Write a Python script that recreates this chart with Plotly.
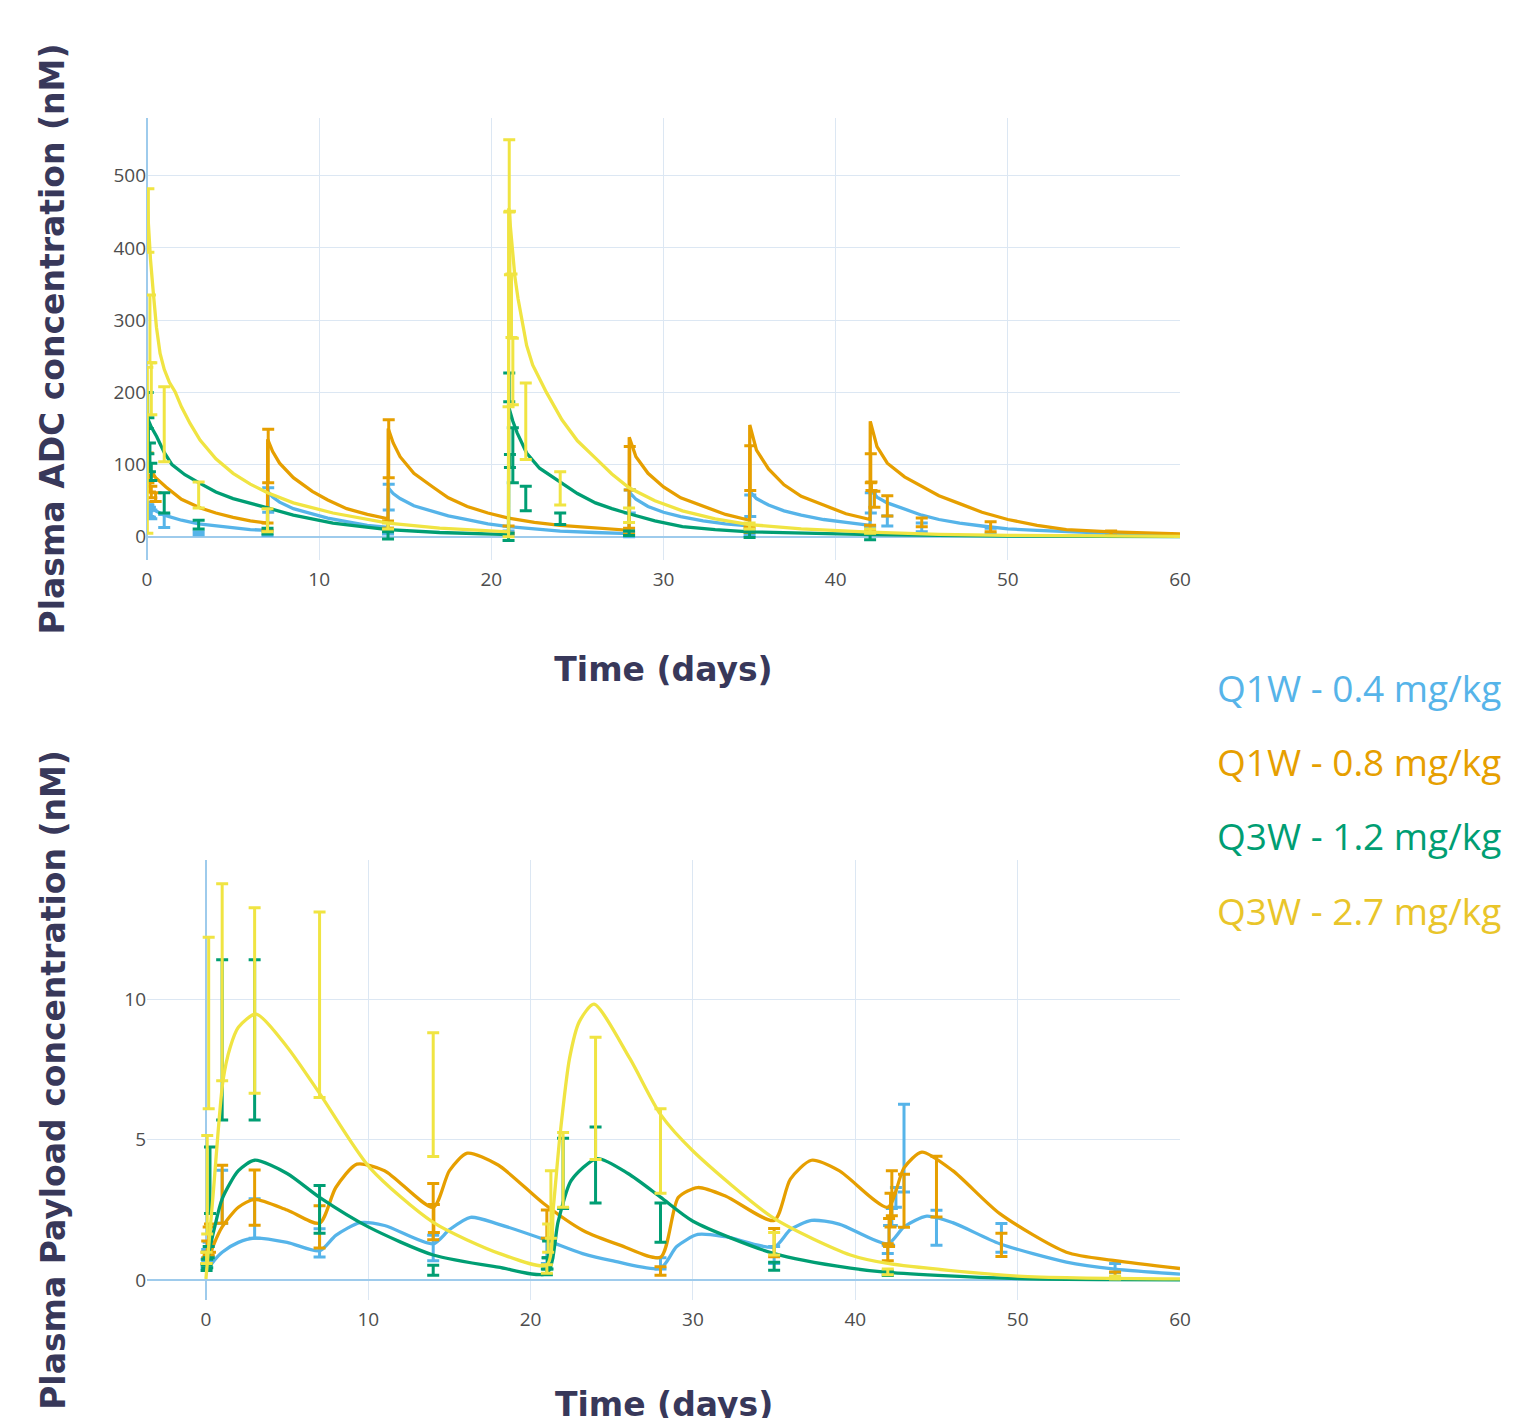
import plotly.graph_objects as go

# ---------------- colours / names ----------------
series_names = ["Q1W - 0.4 mg/kg", "Q1W - 0.8 mg/kg", "Q3W - 1.2 mg/kg", "Q3W - 2.7 mg/kg"]
series_colors = ["#56B4E9", "#E69F00", "#009E73", "#F0E442"]
legend_text_colors = ["#56B4E9", "#E69F00", "#009E73", "#E9C52A"]

# ---------------- ADC model curves (nM) ----------------
blue_adc_t = [0, 0.5, 1, 2, 3, 4, 5, 6, 7,
              7.01, 7.3, 7.7, 8.5, 9.6, 10.5, 11.6, 12.8, 14,
              14.01, 14.3, 14.7, 15.5, 16.6, 17.5, 18.6, 19.8, 21, 22.5, 24, 26, 28,
              28.01, 28.4, 29.1, 30, 31, 32.3, 33.6, 35,
              35.01, 35.4, 36.1, 37, 38, 39.3, 40.6, 42,
              42.01, 42.4, 43, 44, 45, 46, 47.2, 48.5, 50, 51.7, 53.4, 56, 60]
blue_adc_v = [45, 36, 30, 23, 18, 15, 12, 10, 9,
              63, 55, 48, 39, 32, 26, 21, 16, 13,
              68, 60, 53, 43, 35, 29, 24, 18, 14, 11, 8, 6, 4.5,
              62, 52, 42, 34, 28, 22, 18, 15,
              63, 53, 44, 36, 30, 24, 20, 16,
              66, 55, 47, 38, 30, 24, 19, 15, 11, 9, 7, 5, 3]

orange_adc_t = [0, 0.5, 1.1, 2, 3.1, 4, 5, 6, 7,
                7.01, 7.3, 7.7, 8.5, 9.6, 10.5, 11.6, 12.8, 14,
                14.01, 14.3, 14.7, 15.5, 16.6, 17.5, 18.6, 19.8, 21, 22.5, 24, 26, 28,
                28.01, 28.4, 29.1, 30, 31, 32.3, 33.6, 35,
                35.01, 35.4, 36.1, 37, 38, 39.3, 40.6, 42,
                42.01, 42.4, 43, 44, 45, 46, 47.2, 48.5, 50, 51.7, 53.4, 56, 60]
orange_adc_v = [100, 82, 69, 52, 40, 33, 27, 22, 19,
                135, 118, 102, 82, 63, 51, 39, 31, 25,
                150, 130, 111, 88, 69, 54, 42, 33, 26, 20, 16, 12, 9,
                138, 111, 88, 69, 54, 42, 31, 23,
                155, 120, 94, 72, 56, 44, 32, 24,
                160, 125, 102, 83, 70, 57, 46, 34, 24, 16, 10, 7, 4]

green_adc_t = [0, 0.25, 0.56, 1, 1.45, 2.2, 3.08, 4, 5, 6, 7, 8.5, 10.8, 12.5, 14, 17, 21,
               21.01, 21.25, 21.5, 22.05, 22.8, 24.1, 25, 26.05, 27, 28, 29.5, 31.1, 33, 35, 38, 42, 50, 60]
green_adc_v = [166, 152, 139, 117, 100, 86, 74, 62, 53, 46, 40, 30, 19, 14, 10, 6, 3,
               180, 160, 144, 116, 95, 75, 60, 47, 39, 32, 22, 14, 10, 7, 5, 3, 1, 0.4]

yellow_adc_t = [0, 0.2, 0.37, 0.55, 0.76, 1.0, 1.3, 1.63, 2.0, 2.5, 3.08, 4, 5, 6, 7, 8.5, 10.8, 12.5, 14, 17, 21,
                21.01, 21.2, 21.37, 21.55, 21.76, 22.05, 22.4, 22.8, 23.2, 24.1, 25, 26.05, 27, 28, 29.5,
                31.1, 33, 35, 38, 42, 46, 50, 55, 60]
yellow_adc_v = [467, 385, 337, 290, 254, 232, 214, 201, 180, 157, 134, 108, 88, 73, 61, 47, 33, 25, 19, 12, 7,
                455, 400, 360, 330, 300, 265, 238, 218, 200, 162, 133, 109, 87, 68, 50,
                36, 25, 17, 11, 6.5, 3.5, 2, 1, 0.6]

# ---------------- ADC observations (mean, SD) ----------------
blue_adc_obs_t = [0.04, 0.08, 0.17, 0.25, 1, 3, 7, 7.04, 14, 14.04, 21, 28, 28.04, 35, 35.04, 42, 42.04, 43, 45, 49, 56]
blue_adc_obs_v = [42, 36, 34, 31, 22, 5, 5, 51, 8, 55, 5, 3, 49, 6, 43, 10, 47, 22, 13, 8, 3]
blue_adc_obs_e = [6, 8, 7, 6, 9, 2, 3, 17, 4, 18, 3, 3, 16, 4, 15, 4, 14, 7, 6, 4, 2]

orange_adc_obs_t = [0.04, 0.08, 0.17, 0.25, 0.5, 7, 7.04, 14, 14.04, 21, 28, 28.04, 35, 35.04, 42, 42.04, 42.08, 42.25, 43, 45, 49, 56]
orange_adc_obs_v = [100, 80, 70, 62, 55, 14, 112, 17, 122, 10, 8, 95, 10, 95, 12, 95, 70, 52, 43, 20, 14, 5]
orange_adc_obs_e = [16, 5, 8, 8, 6, 5, 37, 5, 40, 5, 4, 30, 4, 31, 4, 20, 6, 11, 14, 6, 7, 3]

green_adc_obs_t = [0.04, 0.08, 0.17, 0.25, 1, 3, 7, 14, 21, 21.04, 21.08, 21.25, 22, 24, 28, 35, 42]
green_adc_obs_v = [175, 140, 110, 90, 47, 17, 8, 2, 0, 207, 105, 113, 53, 25, 5, 3, 1]
green_adc_obs_e = [25, 25, 20, 12, 14, 6, 4, 5, 5, 20, 9, 38, 17, 8, 3, 4, 5]

yellow_adc_obs_t = [0.02, 0.08, 0.17, 0.25, 1, 3, 7, 14, 21, 21.04, 21.08, 21.17, 21.25, 22, 24, 28, 35, 42]
yellow_adc_obs_v = [120, 438, 288, 205, 156, 58, 23, 15, 90, 500, 407, 320, 229, 160, 67, 30, 15, 8]
yellow_adc_obs_e = [115, 44, 47, 36, 52, 18, 16, 4, 90, 50, 44, 44, 46, 53, 23, 10, 4, 3]

# ---------------- Payload model curves (nM) ----------------
blue_pl_t = [0, 0.5, 1, 2, 3, 5, 7, 8, 9.5, 11, 14, 15, 16.3, 18, 21, 23.2, 25, 28, 29, 30.3, 32, 35,
             36, 37.3, 39, 42, 43, 44.4, 46, 48.9, 53, 56, 60]
blue_pl_v = [0.3, 0.7, 1.0, 1.35, 1.5, 1.35, 1.05, 1.6, 2.05, 1.95, 1.3, 1.8, 2.24, 2.0, 1.42, 0.95, 0.7, 0.43,
             1.2, 1.63, 1.55, 1.18, 1.8, 2.13, 2.0, 1.3, 1.9, 2.28, 2.05, 1.3, 0.65, 0.4, 0.22]

orange_pl_t = [0, 0.5, 1, 2, 3, 5, 7, 8, 9.3, 11, 14, 15, 16.1, 18, 20.8, 23.2, 25.5, 28, 29.1, 30.3, 32, 35,
               36, 37.3, 39, 42, 43, 44.1, 46, 48.9, 53, 56, 60]
orange_pl_v = [0.5, 1.3, 1.9, 2.6, 2.88, 2.5, 2.03, 3.3, 4.13, 3.9, 2.6, 3.9, 4.52, 4.1, 2.73, 1.78, 1.25, 0.82,
               2.95, 3.3, 3.0, 2.13, 3.6, 4.27, 3.9, 2.6, 4.0, 4.56, 3.9, 2.37, 1.0, 0.7, 0.42]

green_pl_t = [0, 0.5, 1, 2, 3, 5, 7, 10, 14, 18, 21, 21.7, 22.5, 24.1, 26, 28, 30, 35, 39.7, 42, 50, 60]
green_pl_v = [0.5, 1.8, 2.9, 3.9, 4.27, 3.8, 2.95, 1.9, 0.9, 0.47, 0.25, 2.1, 3.55, 4.33, 3.8, 2.96, 2.1, 0.95,
              0.43, 0.28, 0.06, 0.02]

yellow_pl_t = [0, 0.45, 1.05, 1.5, 2, 3.1, 5, 7, 10.1, 14, 18.1, 21, 21.4, 21.8, 22.4, 23, 23.9, 26.1, 28, 30, 35,
               39.7, 42, 50, 60]
yellow_pl_v = [0.05, 3.1, 7.1, 8.3, 9.0, 9.47, 8.3, 6.65, 4.0, 2.06, 0.95, 0.55, 2.6, 5.1, 7.9, 9.2, 9.82, 7.9,
               5.9, 4.6, 2.2, 0.9, 0.6, 0.15, 0.05]

# ---------------- Payload observations (mean, SD) ----------------
blue_pl_obs_t = [0.04, 0.08, 0.17, 1, 3, 7, 14, 21, 28, 35, 42, 42.08, 42.25, 42.5, 43, 45, 49, 56]
blue_pl_obs_v = [0.6, 0.9, 1.1, 2.97, 2.2, 1.33, 1.15, 1.05, 0.6, 0.9, 1.1, 1.6, 2.25, 2.95, 4.7, 1.87, 1.51, 0.44]
blue_pl_obs_e = [0.15, 0.2, 0.25, 0.94, 0.7, 0.5, 0.45, 0.45, 0.2, 0.3, 0.15, 0.35, 0.3, 0.35, 1.56, 0.62, 0.51, 0.16]

orange_pl_obs_t = [0.04, 0.08, 0.17, 0.25, 1, 3, 7, 14, 14.04, 21, 28, 35, 42, 42.08, 42.17, 42.25, 43, 45, 49, 56]
orange_pl_obs_v = [0.8, 1.1, 1.4, 1.5, 3.06, 2.94, 1.9, 2.44, 2.2, 2.0, 0.33, 1.34, 1.0, 1.7, 2.5, 3.1, 2.83, 3.33, 1.26, 0.2]
orange_pl_obs_e = [0.2, 0.3, 0.5, 0.5, 1.03, 0.98, 0.75, 1.0, 0.5, 0.5, 0.15, 0.5, 0.3, 0.5, 0.6, 0.8, 0.94, 1.08, 0.41, 0.1]

green_pl_obs_t = [0.04, 0.08, 0.17, 0.25, 1, 3, 7, 14, 21, 21.04, 21.08, 22, 24, 28, 35, 42]
green_pl_obs_v = [0.45, 0.6, 1.0, 3.56, 8.55, 8.55, 2.52, 0.36, 0.3, 0.6, 1.1, 3.8, 4.1, 2.05, 0.5, 0.25]
green_pl_obs_e = [0.1, 0.15, 0.2, 1.18, 2.85, 2.85, 0.85, 0.18, 0.1, 0.2, 0.3, 1.25, 1.35, 0.7, 0.14, 0.08]

yellow_pl_obs_t = [0.04, 0.08, 0.17, 1, 3, 7, 14, 21, 21.08, 21.25, 22, 24, 28, 35, 42, 56]
yellow_pl_obs_v = [0.8, 3.4, 9.15, 10.6, 9.95, 9.8, 6.6, 0.4, 1.5, 2.7, 3.93, 6.47, 4.6, 1.3, 0.3, 0.1]
yellow_pl_obs_e = [0.2, 1.75, 3.05, 3.5, 3.3, 3.3, 2.2, 0.15, 0.5, 1.2, 1.33, 2.17, 1.5, 0.4, 0.1, 0.05]

# ---------------- axis ticks ----------------
x_ticks = [0, 10, 20, 30, 40, 50, 60]
adc_ticks = [0, 100, 200, 300, 400, 500]
pl_ticks = [0, 5, 10]

adc_curves = [(blue_adc_t, blue_adc_v), (orange_adc_t, orange_adc_v), (green_adc_t, green_adc_v), (yellow_adc_t, yellow_adc_v)]
adc_obs = [(blue_adc_obs_t, blue_adc_obs_v, blue_adc_obs_e), (orange_adc_obs_t, orange_adc_obs_v, orange_adc_obs_e),
           (green_adc_obs_t, green_adc_obs_v, green_adc_obs_e), (yellow_adc_obs_t, yellow_adc_obs_v, yellow_adc_obs_e)]
pl_curves = [(blue_pl_t, blue_pl_v), (orange_pl_t, orange_pl_v), (green_pl_t, green_pl_v), (yellow_pl_t, yellow_pl_v)]
pl_obs = [(blue_pl_obs_t, blue_pl_obs_v, blue_pl_obs_e), (orange_pl_obs_t, orange_pl_obs_v, orange_pl_obs_e),
          (green_pl_obs_t, green_pl_obs_v, green_pl_obs_e), (yellow_pl_obs_t, yellow_pl_obs_v, yellow_pl_obs_e)]

fig = go.Figure()

for i in range(4):
    c = series_colors[i]
    ot, ov, oe = adc_obs[i]
    fig.add_trace(go.Scatter(x=ot, y=ov, mode="markers", xaxis="x", yaxis="y",
                             marker=dict(size=1, color=c, opacity=0),
                             error_y=dict(type="data", array=oe, visible=True, color=c, thickness=3, width=6),
                             name=series_names[i], showlegend=False, hoverinfo="skip"))
    ct, cv = adc_curves[i]
    fig.add_trace(go.Scatter(x=ct, y=cv, mode="lines", xaxis="x", yaxis="y",
                             line=dict(color=c, width=3.3), name=series_names[i], showlegend=False))
for i in range(4):
    c = series_colors[i]
    ot, ov, oe = pl_obs[i]
    fig.add_trace(go.Scatter(x=ot, y=ov, mode="markers", xaxis="x2", yaxis="y2",
                             marker=dict(size=1, color=c, opacity=0),
                             error_y=dict(type="data", array=oe, visible=True, color=c, thickness=3, width=6),
                             name=series_names[i], showlegend=False, hoverinfo="skip"))
    ct, cv = pl_curves[i]
    fig.add_trace(go.Scatter(x=ct, y=cv, mode="lines", xaxis="x2", yaxis="y2",
                             line=dict(color=c, width=3.3, shape="spline", smoothing=0.7),
                             name=series_names[i], showlegend=False))

GRID = "#dce7f3"
ZERO = "#9ecbec"
TICKFONT = dict(family="Open Sans, sans-serif", size=19, color="#4d4d4d")
TITLEFONT = dict(family="DejaVu Sans", size=33, color="#38385a", weight="bold")

axis_common = dict(showgrid=True, gridcolor=GRID, gridwidth=1, zeroline=True, zerolinecolor=ZERO,
                   zerolinewidth=2, showline=False, ticks="", tickfont=TICKFONT, automargin=False)

fig.update_layout(
    width=1515, height=1418, autosize=False,
    margin=dict(l=147, r=335, t=118, b=118),
    paper_bgcolor="white", plot_bgcolor="white",
    showlegend=False,
    xaxis=dict(axis_common, domain=[0, 1], anchor="y", range=[0, 60], tickvals=x_ticks, ticklabelstandoff=6,
               title=dict(text="Time (days)", font=TITLEFONT, standoff=66)),
    yaxis=dict(axis_common, domain=[0.6261, 1], anchor="x", range=[-32, 580], tickvals=adc_ticks,
               title=dict(text="Plasma ADC concentration (nM)", font=TITLEFONT, standoff=38)),
    xaxis2=dict(axis_common, domain=[0, 1], anchor="y2", range=[-3.63, 60], tickvals=x_ticks, ticklabelstandoff=6),
    yaxis2=dict(axis_common, domain=[0, 0.3723], anchor="x2", range=[-0.7, 14.95], tickvals=pl_ticks,
                title=dict(text="Plasma Payload concentration (nM)", font=TITLEFONT, standoff=48)),
)

# lower x-axis title (sits partly below the visible page, as in the original)
fig.add_annotation(x=0.5, y=-0.0888, xref="paper", yref="paper", xanchor="center", yanchor="middle",
                   text="Time (days)", showarrow=False, font=TITLEFONT)

legend_y = [0.5178, 0.4552, 0.3926, 0.3299]
for i in range(4):
    fig.add_annotation(x=1.0339, y=legend_y[i], xref="paper", yref="paper", xanchor="left", yanchor="middle",
                       text=series_names[i], showarrow=False,
                       font=dict(family="Open Sans, sans-serif", size=37, color=legend_text_colors[i]))

fig.write_html("out.html", config={"displayModeBar": False},
               post_script="document.body.style.margin='0px';document.body.style.overflow='hidden';")
